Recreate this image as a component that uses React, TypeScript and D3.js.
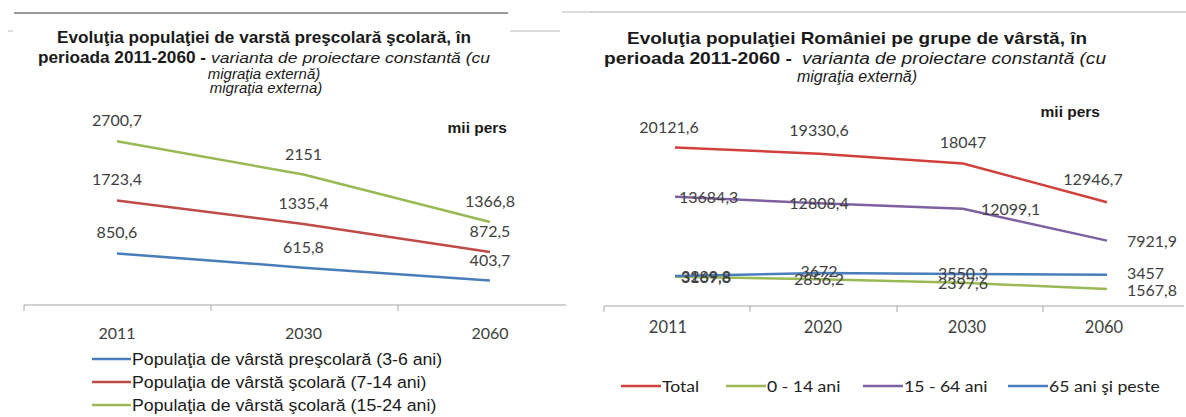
import React from "react";
import * as d3 from "d3";

// Left chart data
const leftYears = ["2011", "2030", "2060"];
const leftSeriesNames = [
  "Populaţia de vârstă preşcolară (3-6 ani)",
  "Populaţia de vârstă şcolară (7-14 ani)",
  "Populaţia de vârstă şcolară (15-24 ani)",
];
const prescolar = [850.6, 615.8, 403.7];
const scolar714 = [1723.4, 1335.4, 872.5];
const scolar1524 = [2700.7, 2151, 1366.8];
const prescolarLabels = ["850,6", "615,8", "403,7"];
const scolar714Labels = ["1723,4", "1335,4", "872,5"];
const scolar1524Labels = ["2700,7", "2151", "1366,8"];

// Right chart data
const rightYears = ["2011", "2020", "2030", "2060"];
const rightSeriesNames = ["Total", "0 - 14 ani", "15 - 64 ani", "65 ani şi peste"];
const total = [20121.6, 19330.6, 18047, 12946.7];
const age0_14 = [3169.8, 2856.2, 2397.6, 1567.8];
const age15_64 = [13684.3, 12808.4, 12099.1, 7921.9];
const age65 = [3267.8, 3672, 3550.3, 3457];
const totalLabels = ["20121,6", "19330,6", "18047", "12946,7"];
const age0_14Labels = ["3169,8", "2856,2", "2397,6", "1567,8"];
const age15_64Labels = ["13684,3", "12808,4", "12099,1", "7921,9"];
const age65Labels = ["3289,8", "3672", "3550,3", "3457"];

const BLUE = "#4a7ebb";
const RED = "#be4b48";
const RED2 = "#d0403c";
const GREEN = "#98b954";
const PURPLE = "#7d60a0";
const LBL = "#404040";
const TITLE_FONT = "'Liberation Sans', Arial, sans-serif";
const NUM_FONT = "Lato, 'Open Sans', sans-serif";

export default function App() {
  // Left scales
  const lx = d3.scalePoint<string>().domain(leftYears).range([117, 490]);
  const ly = d3.scaleLinear().domain([0, 3000]).range([305, 123]);
  const lline = d3
    .line<number>()
    .x((_, i) => lx(leftYears[i]) as number)
    .y((v) => ly(v));

  const leftSeries = [
    { vals: prescolar, labels: prescolarLabels, color: BLUE },
    { vals: scolar714, labels: scolar714Labels, color: RED },
    { vals: scolar1524, labels: scolar1524Labels, color: GREEN },
  ];

  // Right scales
  const rx = d3.scalePoint<string>().domain(rightYears).range([675, 1107]);
  const ry = d3.scaleLinear().domain([0, 22000]).range([301, 301 - 22000 * 0.007623]);
  const rline = d3
    .line<number>()
    .x((_, i) => rx(rightYears[i]) as number)
    .y((v) => ry(v));

  const rightSeries = [
    { vals: total, labels: totalLabels, color: RED2 },
    { vals: age0_14, labels: age0_14Labels, color: GREEN },
    { vals: age15_64, labels: age15_64Labels, color: PURPLE },
    { vals: age65, labels: age65Labels, color: BLUE },
  ];

  const rightLabelPos: { dx: number; dy: number; anchor: string }[][] = [
    [
      { dx: -6, dy: -15, anchor: "middle" },
      { dx: 0, dy: -18, anchor: "middle" },
      { dx: 0, dy: -15, anchor: "middle" },
      { dx: -14, dy: -17, anchor: "middle" },
    ],
    [
      { dx: 6, dy: 6, anchor: "start" },
      { dx: 0, dy: 6, anchor: "middle" },
      { dx: 0, dy: 6, anchor: "middle" },
      { dx: 20, dy: 7, anchor: "start" },
    ],
    [
      { dx: 4, dy: 6, anchor: "start" },
      { dx: 0, dy: 6, anchor: "middle" },
      { dx: 18, dy: 6, anchor: "start" },
      { dx: 20, dy: 6, anchor: "start" },
    ],
    [
      { dx: 6, dy: 6, anchor: "start" },
      { dx: 0, dy: 4, anchor: "middle" },
      { dx: 0, dy: 5, anchor: "middle" },
      { dx: 20, dy: 4, anchor: "start" },
    ],
  ];

  const leftBandEdges = [24, 211, 398, 566];
  const rightBandEdges = [604, 750, 897, 1043, 1184];
  const rightYearX = [668, 823, 967, 1104];
  const rightLegendX = [621, 726, 863, 1008];

  return (
    <div style={{ position: "absolute", left: 0, top: 0 }}>
      <svg width={1186} height={417} style={{ display: "block", background: "#fff" }}>
        {/* decorative separator lines */}
        <line x1={14} x2={508} y1={13} y2={13} stroke="#9a9a9a" strokeWidth={2} />
        <line x1={8} x2={13} y1={31} y2={31} stroke="#bbb" strokeWidth={1} />
        <line x1={510} x2={560} y1={31} y2={31} stroke="#bbb" strokeWidth={1} />
        <line x1={562} x2={593} y1={12} y2={12} stroke="#bbb" strokeWidth={1} />
        <line x1={590} x2={1186} y1={12} y2={12} stroke="#c8c8c8" strokeWidth={1.5} />

        {/* LEFT CHART */}
        <g fontFamily={TITLE_FONT} fill="#1a1a1a">
          <text x={57} y={43} fontSize={16} fontWeight="bold" textLength={414} lengthAdjust="spacingAndGlyphs">
            Evoluţia populaţiei de varstă preşcolară şcolară, în
          </text>
          <text x={38} y={63} fontSize={16} fontWeight="bold" textLength={168} lengthAdjust="spacingAndGlyphs">
            perioada 2011-2060  -
          </text>
          <text x={211} y={63} fontSize={15} fontStyle="italic" textLength={279} lengthAdjust="spacingAndGlyphs">
            varianta de proiectare constantă (cu
          </text>
          <text x={264} y={79} textAnchor="middle" fontSize={15} fontStyle="italic">
            migraţia externă)
          </text>
          <text x={266} y={93} textAnchor="middle" fontSize={15} fontStyle="italic">
            migraţia externa)
          </text>
          <text x={507} y={133} textAnchor="end" fontSize={15.5} fontWeight="bold">
            mii pers
          </text>
        </g>

        {leftSeries.map((s, k) => (
          <path key={k} d={lline(s.vals) || ""} fill="none" stroke={s.color} strokeWidth={2.5} />
        ))}
        <g fontFamily={NUM_FONT} fontSize={16} fill={LBL} textAnchor="middle">
          {leftSeries.map((s, k) =>
            s.vals.map((v, i) => (
              <text key={`${k}-${i}`} x={lx(leftYears[i]) as number} y={ly(v) - 15}>
                {s.labels[i]}
              </text>
            ))
          )}
        </g>

        {/* left axis */}
        <line x1={leftBandEdges[0]} x2={leftBandEdges[leftBandEdges.length - 1]} y1={305} y2={305} stroke="#a6a6a6" strokeWidth={1.2} />
        {leftBandEdges.slice(0, 3).map((e, i) => (
          <line key={i} x1={e} x2={e} y1={305} y2={311} stroke="#a6a6a6" strokeWidth={1} />
        ))}
        <g fontFamily={NUM_FONT} fontSize={16} fill={LBL} textAnchor="middle">
          {leftYears.map((y) => (
            <text key={y} x={lx(y) as number} y={339}>
              {y}
            </text>
          ))}
        </g>

        {/* left legend */}
        <g fontFamily={TITLE_FONT} fontSize={16.5} fill="#1a1a1a">
          {leftSeriesNames.map((n, i) => (
            <g key={n} transform={`translate(0, ${359 + i * 23})`}>
              <line x1={92} x2={131} y1={0} y2={0} stroke={leftSeries[i].color} strokeWidth={2.5} />
              <g transform="translate(132, 0) scale(1.075, 1)">
                <text x={0} y={6}>
                  {n}
                </text>
              </g>
            </g>
          ))}
        </g>

        {/* RIGHT CHART */}
        <g fontFamily={TITLE_FONT} fill="#1a1a1a">
          <text x={627} y={44} fontSize={17} fontWeight="bold" textLength={460} lengthAdjust="spacingAndGlyphs">
            Evoluţia populaţiei României pe grupe de vârstă, în
          </text>
          <text x={604} y={64} fontSize={17} fontWeight="bold" textLength={188} lengthAdjust="spacingAndGlyphs">
            perioada 2011-2060  -
          </text>
          <text x={802} y={64} fontSize={16} fontStyle="italic" textLength={304} lengthAdjust="spacingAndGlyphs">
            varianta de proiectare constantă (cu
          </text>
          <text x={857} y={82} textAnchor="middle" fontSize={16} fontStyle="italic">
            migraţia externă)
          </text>
          <text x={1100} y={117} textAnchor="end" fontSize={15.5} fontWeight="bold">
            mii pers
          </text>
        </g>

        {rightSeries.map((s, k) => (
          <path key={k} d={rline(s.vals) || ""} fill="none" stroke={s.color} strokeWidth={2.5} />
        ))}
        <g fontFamily={NUM_FONT} fontSize={16} fill={LBL}>
          {rightSeries.map((s, k) =>
            s.vals.map((v, i) => {
              const p = rightLabelPos[k][i];
              return (
                <text
                  key={`${k}-${i}`}
                  x={(rx(rightYears[i]) as number) + p.dx}
                  y={ry(v) + p.dy}
                  textAnchor={p.anchor as any}
                >
                  {s.labels[i]}
                </text>
              );
            })
          )}
        </g>

        {/* right axis */}
        <line x1={rightBandEdges[0]} x2={rightBandEdges[rightBandEdges.length - 1]} y1={306} y2={306} stroke="#a6a6a6" strokeWidth={1.2} />
        {rightBandEdges.slice(0, 4).map((e, i) => (
          <line key={i} x1={e} x2={e} y1={306} y2={312} stroke="#a6a6a6" strokeWidth={1} />
        ))}
        <g fontFamily={NUM_FONT} fontSize={16.5} fill={LBL} textAnchor="middle">
          {rightYears.map((y, i) => (
            <text key={y} x={rightYearX[i]} y={333}>
              {y}
            </text>
          ))}
        </g>

        {/* right legend */}
        <g fontFamily={NUM_FONT} fontSize={16} fill="#222">
          {rightSeriesNames.map((n, i) => {
            const x0 = rightLegendX[i];
            return (
              <g key={n}>
                <line x1={x0} x2={x0 + 40} y1={386} y2={386} stroke={rightSeries[i].color} strokeWidth={2.5} />
                <g transform={`translate(${x0 + 41}, 0) scale(1.1, 1)`}>
                  <text x={0} y={392}>
                    {n}
                  </text>
                </g>
              </g>
            );
          })}
        </g>
      </svg>
    </div>
  );
}
